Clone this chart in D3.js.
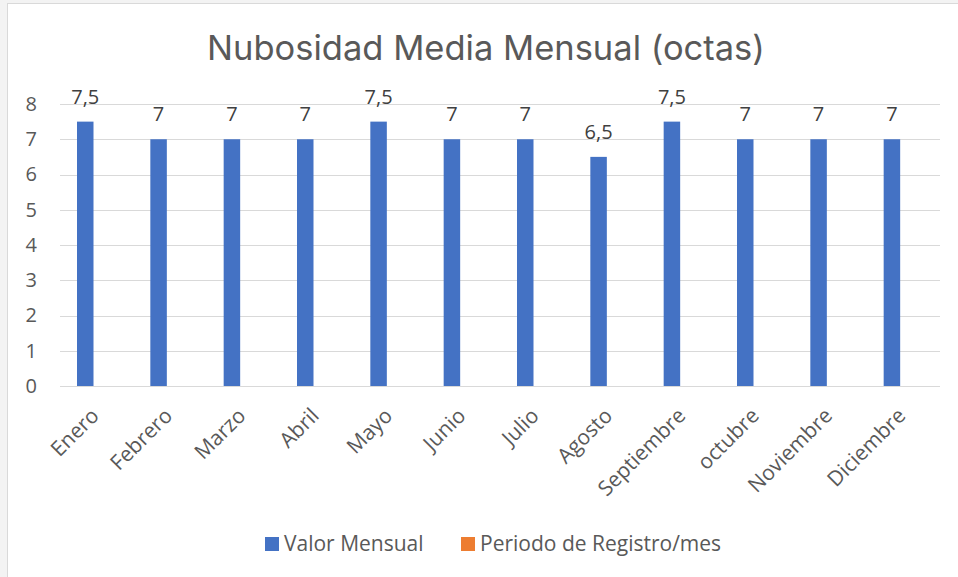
<!DOCTYPE html>
<html>
<head>
<meta charset="utf-8">
<script src="https://cdn.jsdelivr.net/npm/d3@7"></script>
<style>
  body { margin: 0; background: #f3f3f3; }
  svg { display: block; }
</style>
</head>
<body>
<div id="chart"></div>
<script>
  // Nubosidad media mensual - barras agrupadas (la 2a serie no tiene datos)
  const months = ['Enero', 'Febrero', 'Marzo', 'Abril', 'Mayo', 'Junio', 'Julio',
    'Agosto', 'Septiembre', 'octubre', 'Noviembre', 'Diciembre'];
  const valorMensual = [7.5, 7, 7, 7, 7.5, 7, 7, 6.5, 7.5, 7, 7, 7];
  const periodoRegistro = [null, null, null, null, null, null, null, null, null, null, null, null];
  const seriesNames = ['Valor Mensual', 'Periodo de Registro/mes'];
  const seriesColors = ['#4472c4', '#ed7d31'];
  const yTicks = [0, 1, 2, 3, 4, 5, 6, 7, 8];

  const width = 958;
  const height = 577;
  const plot = { left: 60, right: 940, top: 104, bottom: 386 };
  const textColor = '#595959';
  const font = "'Open Sans', 'Noto Sans', sans-serif";

  const svg = d3.select('#chart').append('svg')
    .attr('width', width)
    .attr('height', height);

  // chart frame
  svg.append('rect')
    .attr('x', 7.5).attr('y', 3.5)
    .attr('width', width).attr('height', height)
    .attr('fill', '#ffffff')
    .attr('stroke', '#d9d9d9')
    .attr('stroke-width', 1);

  svg.append('text')
    .attr('x', 486).attr('y', 60)
    .attr('text-anchor', 'middle')
    .attr('font-family', "Inter, 'Open Sans', sans-serif")
    .attr('font-size', 34.5)
    .attr('fill', textColor)
    .text('Nubosidad Media Mensual (octas)');

  const x0 = d3.scaleBand().domain(months).range([plot.left, plot.right]).padding(0);
  const x1 = d3.scaleBand().domain(seriesNames).range([17, 50]).padding(0);
  const y = d3.scaleLinear().domain([0, 8]).range([plot.bottom, plot.top]);

  // gridlines
  svg.append('g')
    .selectAll('line')
    .data(yTicks)
    .enter().append('line')
    .attr('x1', plot.left).attr('x2', plot.right)
    .attr('y1', d => Math.round(y(d)) + 0.5)
    .attr('y2', d => Math.round(y(d)) + 0.5)
    .attr('stroke', '#d9d9d9')
    .attr('stroke-width', 1);

  // y axis labels
  const yAxis = d3.axisLeft(y).tickValues(yTicks).tickSize(0).tickPadding(0);
  const yg = svg.append('g')
    .attr('transform', `translate(${plot.left - 23},0)`)
    .call(yAxis);
  yg.select('.domain').remove();
  yg.selectAll('text')
    .attr('font-family', font)
    .attr('font-size', 20)
    .attr('fill', textColor);

  // bars
  const seriesData = [valorMensual, periodoRegistro];
  seriesData.forEach((vals, si) => {
    svg.append('g')
      .selectAll('rect')
      .data(vals.map((v, i) => ({ month: months[i], value: v })).filter(d => d.value != null))
      .enter().append('rect')
      .attr('x', d => x0(d.month) + x1(seriesNames[si]))
      .attr('y', d => y(d.value))
      .attr('width', x1.bandwidth())
      .attr('height', d => y(0) - y(d.value))
      .attr('fill', seriesColors[si]);
  });

  // data labels
  svg.append('g')
    .selectAll('text')
    .data(valorMensual.map((v, i) => ({ month: months[i], value: v })))
    .enter().append('text')
    .attr('x', d => x0(d.month) + x1(seriesNames[0]) + x1.bandwidth() / 2)
    .attr('y', d => y(d.value) - 18)
    .attr('text-anchor', 'middle')
    .attr('font-family', font)
    .attr('font-size', 20)
    .attr('fill', '#404040')
    .text(d => String(d.value).replace('.', ','));

  // x axis labels, rotated
  const xAxis = d3.axisBottom(x0).tickSize(0).tickPadding(0);
  const xg = svg.append('g')
    .attr('transform', `translate(0,${plot.bottom})`)
    .call(xAxis);
  xg.select('.domain').remove();
  xg.selectAll('.tick').attr('transform', d => `translate(${x0(d) + x1(seriesNames[0]) + x1.bandwidth() / 2 + 15},0)`);
  xg.selectAll('text')
    .attr('font-family', font)
    .attr('font-size', 21)
    .attr('fill', textColor)
    .attr('text-anchor', 'end')
    .attr('dy', null)
    .attr('y', 0)
    .attr('transform', 'translate(0,31) rotate(-45)');

  // legend
  const legendItems = [
    { name: seriesNames[0], color: seriesColors[0], x: 265 },
    { name: seriesNames[1], color: seriesColors[1], x: 461 }
  ];
  const lg = svg.append('g');
  legendItems.forEach(item => {
    lg.append('rect')
      .attr('x', item.x).attr('y', 537)
      .attr('width', 14).attr('height', 14)
      .attr('fill', item.color);
    lg.append('text')
      .attr('x', item.x + 19).attr('y', 551)
      .attr('font-family', font)
      .attr('font-size', 21)
      .attr('fill', textColor)
      .text(item.name);
  });
</script>
</body>
</html>
